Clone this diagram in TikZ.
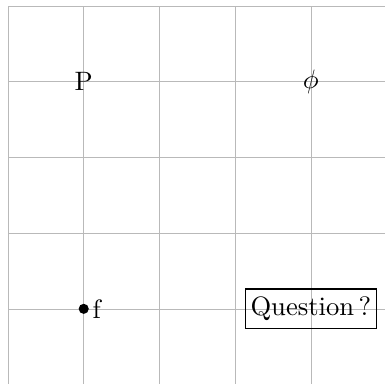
\documentclass[tikz,border=0pt]{standalone}
\usepackage{amsmath}
\usepackage{amssymb}
\usepackage{tikz}
\usetikzlibrary{positioning}

\begin{document}
\begin{tikzpicture}[
      dot/.style={circle, fill=black, inner sep=0pt, minimum size=3.8pt},
      qbox/.style={draw, line width=0.5pt, inner xsep=2pt, inner ysep=3pt}
    ]
      \useasboundingbox (-0.106,0.02) rectangle (4.98,5.08);
      \clip (-0.106,0.02) rectangle (4.98,5.08);
      \draw[help lines, gray!55] (0,0) grid (5,5);

      \node (p) at (1,4) {P};
      \node (phi) at (4,4) {$\phi$};
      \node[dot, label={[inner sep=1pt]right:f}] (f) at (1,1) {};
      \node[qbox] (question) at (4,1) {Question\,?};
    \end{tikzpicture}
\end{document}
